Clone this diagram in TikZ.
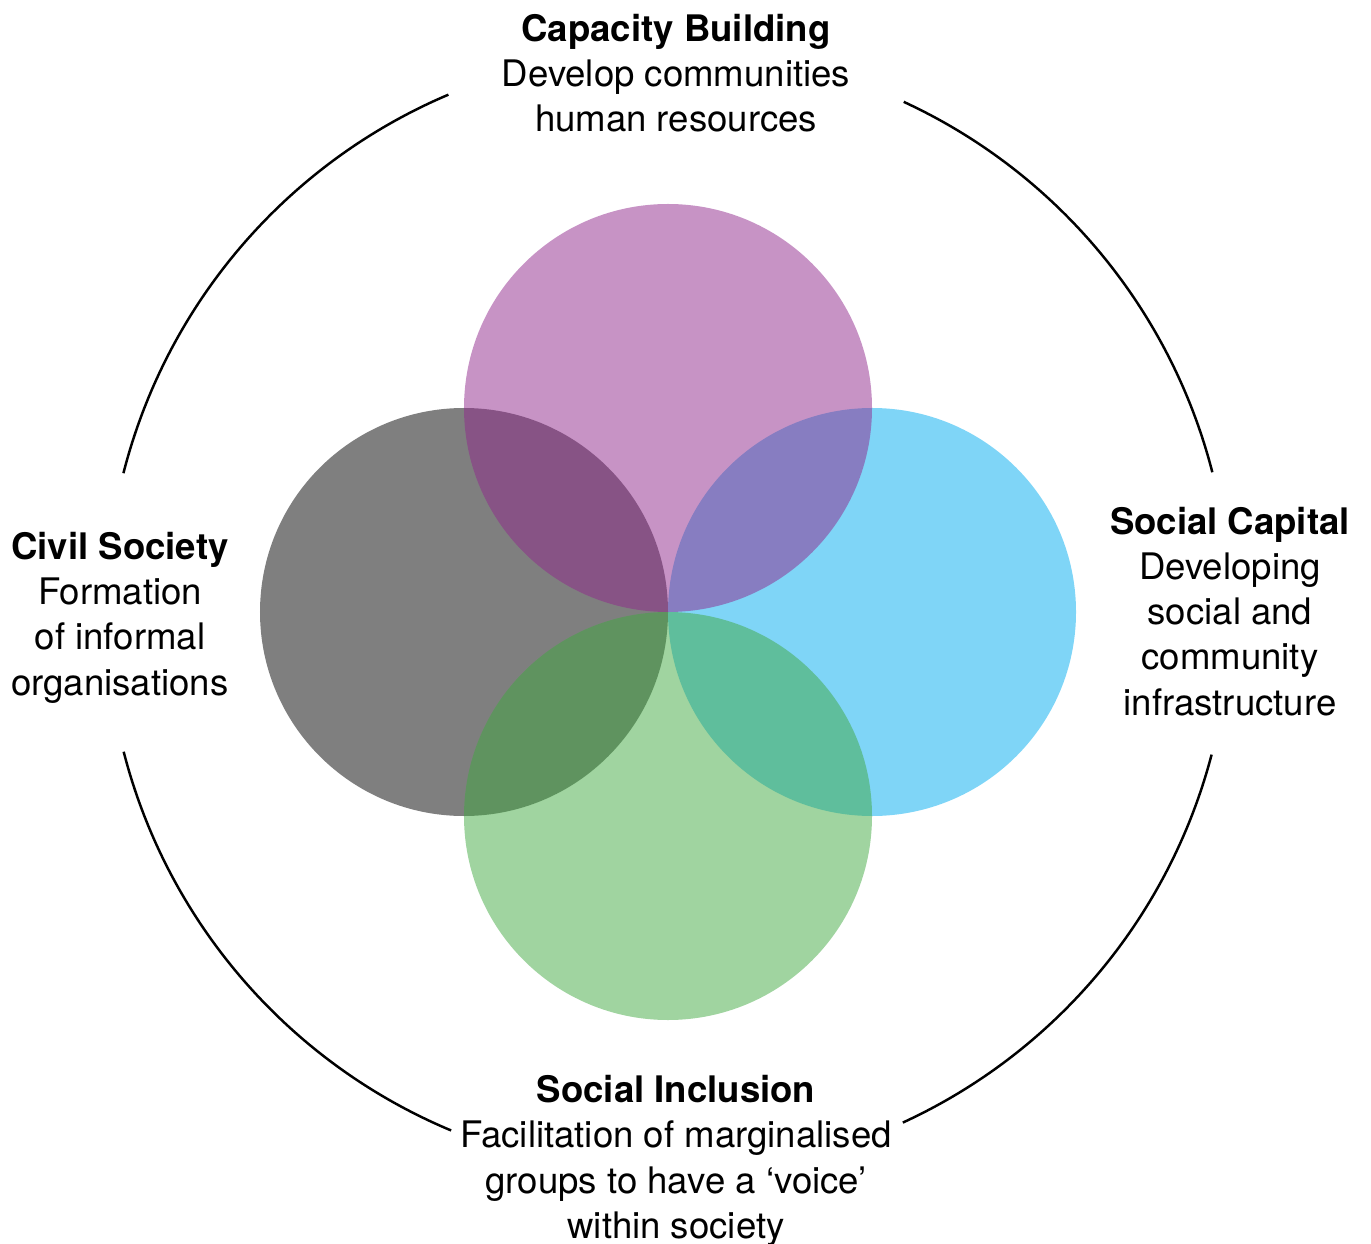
\documentclass[tikz,border=0pt]{standalone}
\usepackage{fontspec}
\setmainfont{TeX Gyre Heros}
\tikzset{
  petal/.style={fill=#1,fill opacity=0.5,draw=none},
  ring/.style={line width=0.7pt,black},
  caption/.style={align=center,anchor=base,inner sep=0pt,
    font=\fontsize{10.4}{12.8}\selectfont}
}
\definecolor{civilgrey}{RGB}{0,0,0}
\definecolor{capitalblue}{RGB}{0,171,239}
\definecolor{capacitypurple}{RGB}{144,40,140}
\definecolor{inclusiongreen}{RGB}{65,169,65}
\begin{document}
\begin{tikzpicture}[x=0.01cm,y=0.01cm]
        \useasboundingbox (-668,-631) rectangle (703,612);
        % four overlapping circles
        \fill[petal=civilgrey] (-204,0) circle (204);
        \fill[petal=capitalblue] (204,0) circle (204);
        \fill[petal=capacitypurple] (0,204) circle (204);
        \fill[petal=inclusiongreen] (0,-204) circle (204);
        % outer ring, broken at the labels
        \draw[ring] (113:562) arc (113:165.7:562);
        \draw[ring] (14.4:562) arc (14.4:65.2:562);
        \draw[ring] (-65.3:562) arc (-65.3:-14.7:562);
        \draw[ring] (194.4:562) arc (194.4:247.3:562);
        % labels (base sits on the last line)
        \node[caption] (capacity) at (8,480) {\textbf{Capacity Building}\\Develop communities\\human resources};
        \node[caption] (civil) at (-548,-83) {\textbf{Civil Society}\\Formation\\of informal\\organisations};
        \node[caption] (capital) at (562,-103) {\textbf{Social Capital}\\Developing\\social and\\community\\infrastructure};
        \node[caption] (inclusion) at (8,-626) {\textbf{Social Inclusion}\\Facilitation of marginalised\\groups to have a `voice'\\within society};
\end{tikzpicture}
\end{document}
